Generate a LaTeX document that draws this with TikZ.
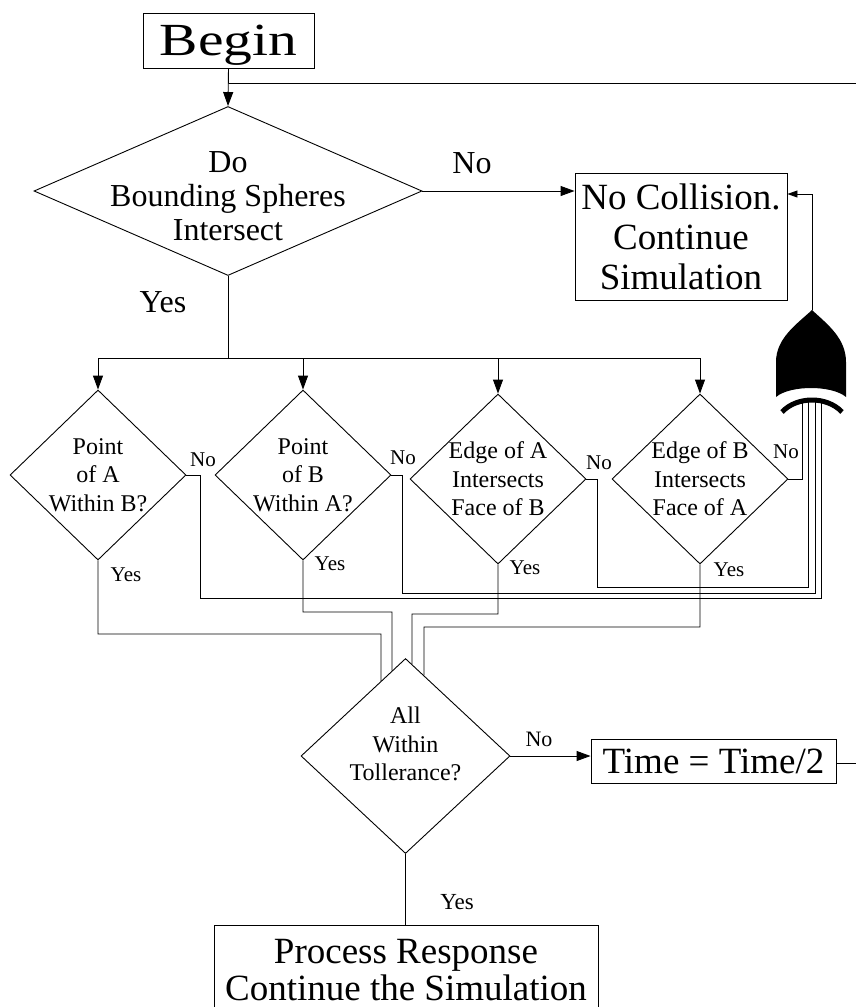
\documentclass[tikz,border=0pt]{standalone}
\usepackage{fontspec}
\setmainfont{Liberation Serif}
\usetikzlibrary{arrows.meta,shapes.geometric}

\begin{document}
\begin{tikzpicture}[x=1pt,y=-1pt,line width=0.9pt,
   block/.style={draw,rectangle,inner sep=0pt,align=center},
   decision/.style={draw,diamond,inner sep=0pt},
   flow/.style={draw=black,-{Triangle[length=14pt,width=10pt]}},
   flowsmall/.style={draw=black,-{Triangle[length=10pt,width=7pt]}},
   dtext/.style={align=center,inner sep=0pt,font=\fontsize{24}{28.5}\selectfont},
   tag/.style={inner sep=0pt,font=\fontsize{21}{24}\selectfont},
   bigtag/.style={inner sep=0pt,font=\fontsize{32}{34}\selectfont}]
   \useasboundingbox (0,0) rectangle (856,1007);
   \clip (0,0) rectangle (856,1007);
   % boxes
   \node[block,minimum width=171pt,minimum height=55pt,text depth=0pt,
      font=\fontsize{46}{50}\selectfont] (begin) at (228.5,40.5) {\scalebox{1.25}[1]{Begin}};
   \node[block,minimum width=212pt,minimum height=127pt,
      font=\fontsize{37}{40}\selectfont] (nocol) at (681,236.5) {No Collision.\\Continue\\Simulation};
   \node[block,minimum width=245pt,minimum height=44pt,
      font=\fontsize{37}{40}\selectfont] (time) at (713.5,761) {Time = Time/2};
   \node[block,minimum width=384pt,minimum height=90pt,
      font=\fontsize{37}{37}\selectfont] (proc) at (406,970) {Process Response\\Continue the Simulation};
   % decisions
   \node[decision,minimum width=388pt,minimum height=169pt,
      label={[align=center,yshift=-5pt,font=\fontsize{32}{34}\selectfont]center:Do\\Bounding Spheres\\Intersect}] (bs) at (228,191) {};
   \foreach \d/\x/\y/\txt in {{pa/98/475/{Point\\of A\\Within B?}},{pb/303/475/{Point\\of B\\Within A?}},{ea/498/479/{Edge of A\\Intersects\\Face of B}},{eb/700/479/{Edge of B\\Intersects\\Face of A}}}
      \node[decision,minimum width=176pt,minimum height=170pt,label={[dtext]center:\txt}] (\d) at (\x,\y) {};
   \node[decision,minimum width=209pt,minimum height=195pt,
      label={[dtext,yshift=12pt]center:All\\Within\\Tollerance?}] (tol) at (405.5,756) {};
   % labels
   \node[bigtag] (nobs) at (472,163) {No};
   \node[bigtag] (yesbs) at (163,302) {Yes};
   \foreach \d/\nx/\ny/\yx/\yy in {{pa/203/460/126/575},{pb/403/458/330/564},{ea/599/463/525/568},{eb/786/452/729/570}}
   {
      \node[tag] (no\d) at (\nx,\ny) {No};
      \node[tag] (yes\d) at (\yx,\yy) {Yes};
   }
   \node[tag,font=\fontsize{22}{24}\selectfont] (notol) at (539,739) {No};
   \node[tag,font=\fontsize{23}{24}\selectfont] (yestol) at (457,902) {Yes};
   % gate
   \fill (776,397) -- (776,362) .. controls (776,338) and (797,324) .. (812,310)
      .. controls (827,324) and (846,338) .. (846,362) -- (846,397)
      .. controls (832,385) and (790,385) .. (776,397) -- cycle;
   \draw[line width=5pt] (782,412) .. controls (797,396) and (827,396) .. (842,412);
   \coordinate (gout) at (812,310);
   \coordinate (gin1) at (802,402);
   \coordinate (gin2) at (808,402);
   \coordinate (gin3) at (815,402);
   \coordinate (gin4) at (821,402);
   % connectors
   \coordinate (back) at (856,83);
   \coordinate (fwd) at (856,763);
   \draw[flow] (begin.south) -- (bs.north);
   \draw (begin.south |- back) -- (back);
   \draw[flow] (bs.east) -- (bs.east -| nocol.west);
   \draw (bs.south) -- (bs.south |- 0,358) coordinate (bus);
   \draw (bus -| pa.north) -- (bus -| eb.north);
   \foreach \d in {pa,pb,ea,eb}
      \draw[flow] (bus -| \d.north) -- (\d.north);
   % no -> gate
   \foreach \d/\stub/\lev/\g in {{pa/14/598/gin4},{pb/11/593/gin3},{ea/11/587/gin2}}
      \draw (\d.east) -- ++(\stub,0) |- (\g |- 0,\lev) -- (\g);
   \draw (eb.east) -| (gin1);
   \draw[flowsmall] (gout) |- ([yshift=42.5pt]nocol.east);
   % yes -> tolerance
   \foreach \d/\lev/\col/\side in {{pa/634/381/west},{pb/612/392/west},{ea/614/412/east},{eb/627/424/east}}
      \draw (\d.south) |- (\col,\lev) -- (intersection of \col,\lev--\col,700 and tol.north--tol.\side);
   \draw[flow] (tol.east) -- (tol.east -| time.west);
   \draw (time.east |- fwd) -- (fwd);
   \draw (tol.south) -- (tol.south |- proc.north);
\end{tikzpicture}
\end{document}
